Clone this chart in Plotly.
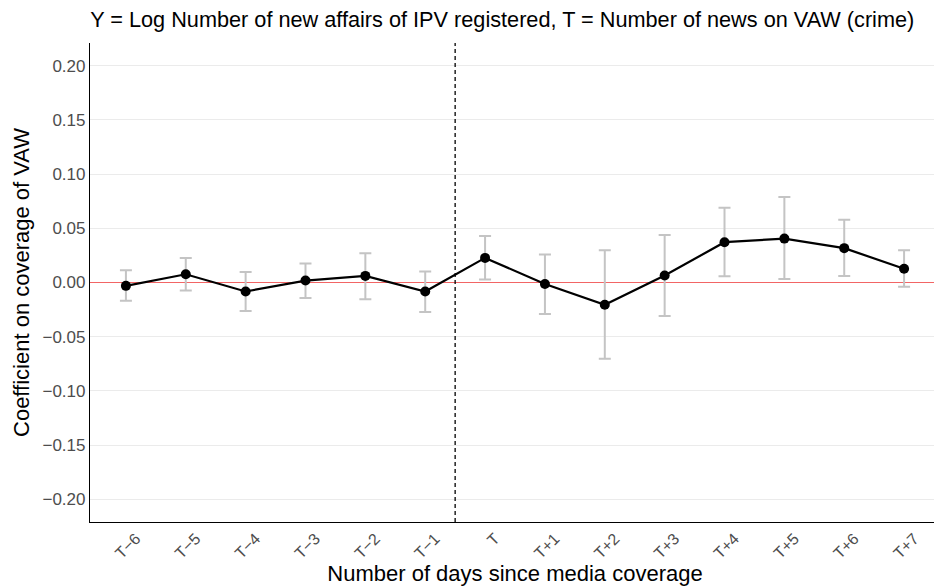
import plotly.graph_objects as go

# event-study coefficients
periods = ["T\u22126", "T\u22125", "T\u22124", "T\u22123", "T\u22122", "T\u22121",
           "T", "T+1", "T+2", "T+3", "T+4", "T+5", "T+6", "T+7"]
coef = [-0.0031, 0.0076, -0.0083, 0.0018, 0.0061, -0.0083,
        0.0227, -0.0014, -0.0206, 0.0064, 0.0372, 0.0405, 0.0317, 0.0127]
ci_upper = [0.0113, 0.0226, 0.0098, 0.0175, 0.0270, 0.0101,
            0.0430, 0.0258, 0.0298, 0.0438, 0.0690, 0.0789, 0.0578, 0.0297]
ci_lower = [-0.0169, -0.0074, -0.0264, -0.0142, -0.0154, -0.0273,
            0.0027, -0.0290, -0.0704, -0.0310, 0.0058, 0.0033, 0.0061, -0.0040]
y_ticks = [-0.20, -0.15, -0.10, -0.05, 0.00, 0.05, 0.10, 0.15, 0.20]

x = list(range(len(periods)))
err_plus = [u - c for u, c in zip(ci_upper, coef)]
err_minus = [c - l for c, l in zip(coef, ci_lower)]

fig = go.Figure()

# grey confidence bars
fig.add_trace(go.Scatter(
    x=x, y=coef, mode="markers",
    marker=dict(size=1, color="rgba(0,0,0,0)"),
    error_y=dict(type="data", symmetric=False, array=err_plus, arrayminus=err_minus,
                 color="#c4c4c4", thickness=2, width=6),
    showlegend=False, hoverinfo="skip"
))

# treatment day
fig.add_vline(x=5.5, line=dict(color="black", width=1.3, dash="4px,3px"))

fig.add_trace(go.Scatter(
    x=x, y=coef, mode="lines+markers",
    line=dict(color="black", width=2.2),
    marker=dict(size=10, color="black"),
    showlegend=False
))

# page body has an 8px margin, so the figure is 8px smaller than the window
fig.update_layout(
    width=934, height=578,
    margin=dict(l=82, r=2, t=35, b=64),
    paper_bgcolor="white", plot_bgcolor="white",
    font=dict(family="Liberation Sans, Arial, sans-serif", color="black"),
    title=dict(text="Y = Log Number of new affairs of IPV registered, T = Number of news on VAW (crime)",
               x=0.088, xanchor="left", y=0.994, yanchor="top", pad=dict(t=0),
               font=dict(size=21.7, color="black")),
)

fig.update_xaxes(
    tickmode="array", tickvals=x, ticktext=periods, tickangle=-45,
    range=[-0.6, 13.6], showgrid=False, zeroline=False,
    showline=True, linecolor="black", linewidth=1.2,
    tickfont=dict(size=16, color="#4d4d4d"), ticks="", automargin=False,
    ticklabelshift=10, ticklabelstandoff=0,
    title=dict(text="Number of days since media coverage", font=dict(size=22), standoff=0),
)
fig.update_yaxes(
    tickmode="array", tickvals=y_ticks, ticktext=[f"{v:.2f}".replace("-", "\u2212") for v in y_ticks],
    range=[-0.221, 0.221], showgrid=True, gridcolor="#ebebeb", gridwidth=1,
    zeroline=True, zerolinecolor="#f26565", zerolinewidth=1.3,
    showline=True, linecolor="black", linewidth=1.2,
    tickfont=dict(size=17, color="#4d4d4d"), ticks="", automargin=False,
    title=dict(text="Coefficient on coverage of VAW", font=dict(size=22), standoff=6),
)

fig.write_html("out.html")
